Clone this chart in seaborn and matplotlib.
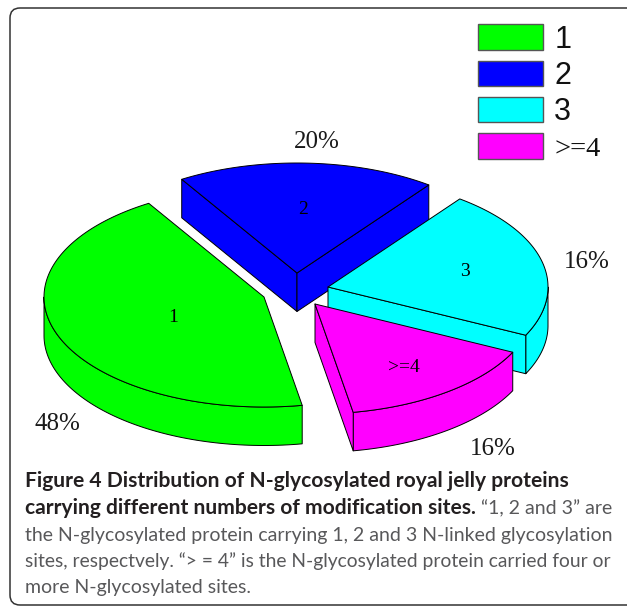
import numpy as np
import matplotlib
matplotlib.use('Agg')
import matplotlib.pyplot as plt
from matplotlib.patches import FancyBboxPatch, Patch
import seaborn as sns

# 数据
categories = ['1', '2', '3', '>=4']
pct_labels = ['48%', '20%', '16%', '16%']
# slice sizes as drawn in the picture (they differ from the printed labels)
drawn_shares = [44, 19, 22, 15]

caption_bold = ['Figure 4 Distribution of N-glycosylated royal jelly proteins',
                'carrying different numbers of modification sites.']
caption_rest = ['\u201c1, 2 and 3\u201d are',
                'the N-glycosylated protein carrying 1, 2 and 3 N-linked glycosylation',
                'sites, respectvely. \u201c> = 4\u201d is the N-glycosylated protein carried four or',
                'more N-glycosylated sites.']

# 布局 (pixels of the 627x606 picture)
centers = [(264, 297), (297, 273), (328, 287), (315, 304)]
name_pos = [(173, 318), (303, 210), (465, 272), (404, 368)]
pct_pos = [(57, 424), (317, 142), (587, 262), (493, 449)]
RX, RY, DEPTH = 220, 110, 38.5
START = 280

sns.set_theme(style='white')
colors = sns.color_palette(['#00ff00', '#0000ff', '#00ffff', '#ff00ff'])

fig = plt.figure(figsize=(6.27, 6.06), dpi=100)
ax = fig.add_axes([0, 0, 1, 1])
ax.set_xlim(0, 627)
ax.set_ylim(606, 0)
ax.axis('off')

ax.add_patch(FancyBboxPatch((10, 8), 640, 597, boxstyle='round,pad=0,rounding_size=10',
                            fc='white', ec='#333333', lw=1.1))


def rim(cx, cy, t):
    t = np.radians(t)
    return cx + RX * np.cos(t), cy - RY * np.sin(t)


def draw_slice(i, hi, lo):
    cx, cy = centers[i]
    style = dict(fc=colors[i], ec='black', lw=0.7, joinstyle='round')
    # outer wall, only the front half of the ellipse shows
    for shift in (0, -360):
        a, b = max(lo, 180 + shift), min(hi, 360 + shift)
        if a < b:
            t = np.linspace(a, b, 80)
            x, y = rim(cx, cy, t)
            ax.fill(np.r_[x, x[::-1]], np.r_[y, y[::-1] + DEPTH], **style)
    # cut faces
    for edge, visible in ((hi, np.cos(np.radians(hi)) < 0), (lo, np.cos(np.radians(lo)) > 0)):
        if visible:
            ex, ey = rim(cx, cy, edge)
            ax.fill([cx, ex, ex, cx], [cy, ey, ey + DEPTH, cy + DEPTH], **style)
    # top
    t = np.linspace(lo, hi, 120)
    x, y = rim(cx, cy, t)
    ax.fill(np.r_[cx, x], np.r_[cy, y], **style)


spans = np.array(drawn_shares) / sum(drawn_shares) * 360
edges = START - np.r_[0, np.cumsum(spans)]
for i in [1, 2, 0, 3]:
    draw_slice(i, edges[i], edges[i + 1])

for i, name in enumerate(categories):
    ax.text(*name_pos[i], name, family='Liberation Serif', fontsize=14, color='black',
            ha='center', va='center')
    ax.text(*pct_pos[i], pct_labels[i], family='Liberation Serif', fontsize=18, color='#1a1a1a',
            ha='center', va='center')

# 图例
handles = [Patch(fc=c, ec='#555555', lw=1) for c in colors]
leg = ax.legend(handles, categories, loc='upper left', bbox_to_anchor=(457 / 627, 1 - 3 / 606),
                bbox_transform=ax.transAxes, frameon=False, borderpad=0.2,
                handlelength=2.13, handleheight=0.92, handletextpad=0.35, labelspacing=0.187,
                prop=dict(family='Liberation Sans', size=22))
leg.get_texts()[3].set_family('Liberation Serif')
leg.get_texts()[3].set_fontsize(20.5)
for t in leg.get_texts():
    t.set_color('#111111')

# 图注
BOLD_C, REST_C = '#231f20', '#58585a'
FONT = 'Lato'
BOLD_SIZE = 15.1
rest_sizes = [14.05, 14.05, 13.9, 14.05]
ys = [481, 508.5, 535, 561, 587.5]
ax.text(25, ys[0], caption_bold[0], family=FONT, fontsize=BOLD_SIZE, weight='bold', color=BOLD_C, va='center')
ax.text(25, ys[1], caption_bold[1], family=FONT, fontsize=BOLD_SIZE, weight='bold', color=BOLD_C, va='center')
ax.text(481, ys[1], caption_rest[0], family=FONT, fontsize=rest_sizes[0], color=REST_C, va='center')
for y, line, size in zip(ys[2:], caption_rest[1:], rest_sizes[1:]):
    ax.text(25, y, line, family=FONT, fontsize=size, color=REST_C, va='center')

fig.savefig('out.png', dpi=100)
